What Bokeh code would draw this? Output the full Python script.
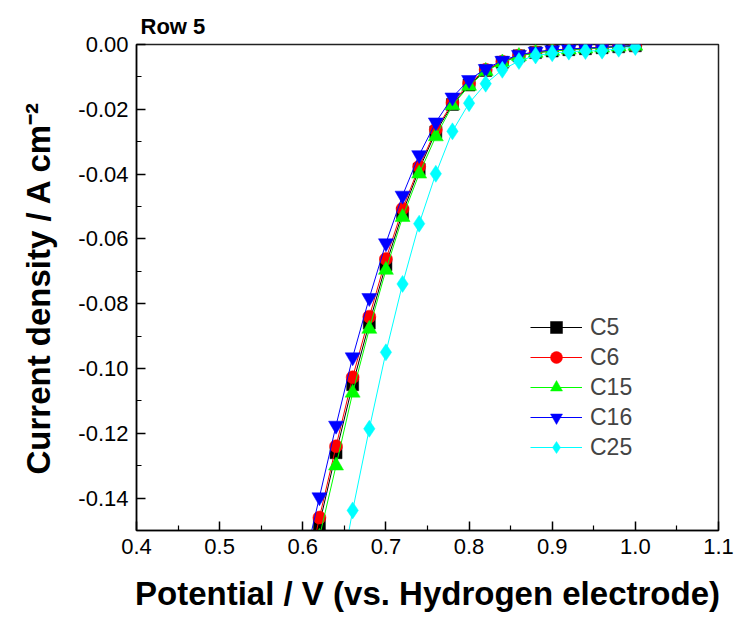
from bokeh.plotting import figure
from bokeh.embed import file_html
from bokeh.resources import INLINE
from bokeh.models import Legend, LegendItem, FixedTicker, Range1d
from bokeh.core.properties import value

# ---- data ----
potential = [0.60, 0.62, 0.64, 0.66, 0.68, 0.70, 0.72, 0.74, 0.76, 0.78, 0.80,
             0.82, 0.84, 0.86, 0.88, 0.90, 0.92, 0.94, 0.96, 0.98, 1.00]

c5 = [-0.172, -0.148, -0.126, -0.105, -0.086, -0.068, -0.052, -0.0385, -0.027, -0.0185, -0.0125,
      -0.008, -0.0055, -0.0035, -0.0025, -0.002, -0.0016, -0.0013, -0.001, -0.0007, -0.0004]
c6 = [-0.170, -0.146, -0.124, -0.1027, -0.084, -0.0662, -0.0507, -0.0377, -0.0263, -0.018, -0.012,
      -0.0078, -0.0053, -0.0034, -0.0024, -0.0019, -0.0015, -0.0012, -0.0009, -0.0007, -0.0004]
c15 = [-0.176, -0.152, -0.130, -0.1075, -0.0878, -0.0696, -0.0533, -0.0399, -0.0284, -0.0188, -0.0128,
       -0.0082, -0.0056, -0.0036, -0.0026, -0.002, -0.0016, -0.0013, -0.001, -0.0007, -0.0004]
c16 = [-0.162, -0.1397, -0.1176, -0.0965, -0.0782, -0.0613, -0.0466, -0.0341, -0.024, -0.0163, -0.0109,
       -0.0075, -0.005, -0.0032, -0.0022, -0.0017, -0.0014, -0.0011, -0.0009, -0.0006, -0.0003]
c25 = [-0.225, -0.198, -0.172, -0.1438, -0.1186, -0.095, -0.0739, -0.0553, -0.0399, -0.0268, -0.0181,
       -0.0121, -0.0078, -0.0051, -0.0034, -0.0027, -0.0022, -0.002, -0.0019, -0.0013, -0.0008]

series_names = ["C5", "C6", "C15", "C16", "C25"]
series_values = [c5, c6, c15, c16, c25]
series_colors = ["#000000", "#ff0000", "#00ff00", "#0000ff", "#00ffff"]
series_markers = ["square", "circle", "triangle", "inverted_triangle", "diamond"]
marker_sizes = [12, 13, 15, 15, 17]

x_ticks = [0.4, 0.5, 0.6, 0.7, 0.8, 0.9, 1.0, 1.1]
y_ticks = [0.00, -0.02, -0.04, -0.06, -0.08, -0.10, -0.12, -0.14]

FONT = "Liberation Sans"

p = figure(width=735, height=621, output_backend="svg", toolbar_location=None,
           x_range=Range1d(0.4, 1.1), y_range=Range1d(-0.15, 0.0),
           min_border_left=136, min_border_right=17, min_border_top=44, min_border_bottom=91)

p.background_fill_color = "white"
p.border_fill_color = "white"
p.grid.visible = False
p.outline_line_color = "#222222"
p.outline_line_width = 1.5

items = []
for name, vals, col, mk, ms in zip(series_names, series_values, series_colors, series_markers, marker_sizes):
    r1 = p.line(potential, vals, line_color=col, line_width=1)
    r2 = p.scatter(potential, vals, marker=mk, size=ms, fill_color=col, line_color=col, line_width=0.5)
    items.append(LegendItem(label=name, renderers=[r1, r2]))

legend = Legend(items=items, location=(394, 68), background_fill_alpha=0, border_line_alpha=0,
                label_text_font=FONT, label_text_font_size="23px", glyph_width=52, glyph_height=30,
                spacing=0, label_standoff=8, padding=0, margin=0, label_height=20)
p.add_layout(legend, "center")

for ax in (p.xaxis[0], p.yaxis[0]):
    ax.major_tick_in = 9
    ax.major_tick_out = 0
    ax.minor_tick_in = 5
    ax.minor_tick_out = 0
    ax.axis_line_color = "black"
    ax.axis_line_width = 1.5
    ax.major_tick_line_width = 1.5
    ax.minor_tick_line_width = 1.2
    ax.major_label_text_font = FONT
    ax.major_label_text_font_size = "22px"
    ax.major_label_text_color = "black"
    ax.axis_label_text_font = FONT
    ax.axis_label_text_font_style = "bold"
    ax.axis_label_text_color = "black"

p.xaxis.ticker = FixedTicker(ticks=x_ticks, minor_ticks=[0.45, 0.55, 0.65, 0.75, 0.85, 0.95, 1.05])
p.xaxis.major_label_overrides = {t: f"{t:.1f}" for t in x_ticks}
p.yaxis.ticker = FixedTicker(ticks=y_ticks, minor_ticks=[-0.01, -0.03, -0.05, -0.07, -0.09, -0.11, -0.13])
p.yaxis.major_label_overrides = {t: f"{t:.2f}" for t in y_ticks}
p.xaxis.major_label_standoff = 8
p.yaxis.major_label_standoff = 8
p.xaxis.axis_label = "Potential / V (vs. Hydrogen electrode)"
p.yaxis.axis_label = "Current density / A cm\u207b\u00b2"
p.xaxis.axis_label_text_font_size = "33px"
p.yaxis.axis_label_text_font_size = "33px"
p.xaxis.axis_label_standoff = 18
p.yaxis.axis_label_standoff = 18

p.title.text = "Row 5"
p.title.text_font = FONT
p.title.text_font_size = "22px"
p.title.text_font_style = "bold"
p.title.text_color = "black"
p.title.align = "left"
p.title.vertical_align = "top"
p.title.offset = 4
p.title.standoff = 8

open("out.html", "w").write(file_html(p, INLINE))
